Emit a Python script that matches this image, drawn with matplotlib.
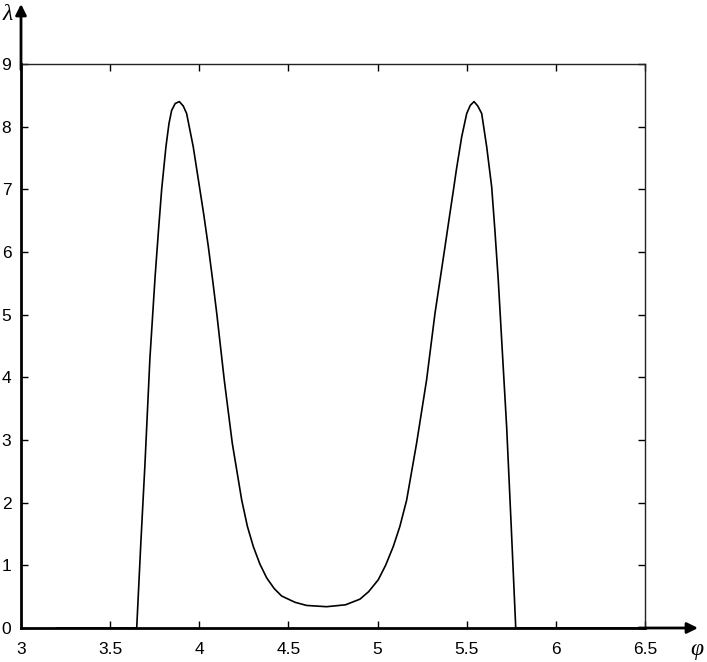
import matplotlib
matplotlib.use("Agg")
import matplotlib.pyplot as plt

# data
phi = [3.20, 3.649, 3.672, 3.695, 3.723, 3.752, 3.770, 3.789, 3.813, 3.830,
       3.845, 3.865, 3.888, 3.910, 3.929, 3.966, 3.995, 4.025, 4.051, 4.075,
       4.098, 4.140, 4.185, 4.238, 4.270, 4.303, 4.340, 4.378, 4.420, 4.462,
       4.537, 4.602, 4.714, 4.820, 4.901, 4.950, 5.004, 5.045, 5.088, 5.125,
       5.163, 5.219, 5.275, 5.322, 5.350, 5.378, 5.406, 5.425, 5.443, 5.472,
       5.500, 5.520, 5.541, 5.562, 5.584, 5.612, 5.640, 5.658, 5.677, 5.700,
       5.724, 5.750, 5.775, 6.50]
lam = [0.0, 0.0, 1.35, 2.60, 4.30, 5.60, 6.30, 7.00, 7.68, 8.05,
       8.26, 8.37, 8.40, 8.33, 8.21, 7.68, 7.15, 6.60, 6.08, 5.55,
       5.02, 3.96, 2.95, 2.04, 1.62, 1.30, 1.02, 0.80, 0.63, 0.51,
       0.41, 0.36, 0.34, 0.37, 0.46, 0.58, 0.77, 1.00, 1.30, 1.62,
       2.04, 2.95, 3.96, 5.02, 5.55, 6.08, 6.62, 6.98, 7.33, 7.84,
       8.21, 8.34, 8.40, 8.33, 8.21, 7.68, 7.04, 6.35, 5.55, 4.40,
       3.21, 1.60, 0.0, 0.0]
xticks = [3, 3.5, 4, 4.5, 5, 5.5, 6, 6.5]
xticklabels = ["3", "3.5", "4", "4.5", "5", "5.5", "6", "6.5"]
yticks = [0, 1, 2, 3, 4, 5, 6, 7, 8, 9]

W, H = 707, 662
fig = plt.figure(figsize=(W / 100, H / 100), dpi=100)
L, R, T, B = 21, 645, 64, 628
ax = fig.add_axes([L / W, 1 - B / H, (R - L) / W, (B - T) / H])

ax.plot(phi, lam, color="black", lw=1.2, clip_on=False, zorder=3,
        solid_joinstyle="round")
ax.set_xlim(3, 6.5)
ax.set_ylim(0, 9)
ax.set_xticks(xticks)
ax.set_xticklabels(xticklabels)
ax.set_yticks(yticks)

tickfont = dict(family=["Liberation Sans", "DejaVu Sans"], size=12.5)
for lab in ax.get_xticklabels() + ax.get_yticklabels():
    lab.set_fontfamily(tickfont["family"])
    lab.set_fontsize(tickfont["size"])

ax.tick_params(direction="in", length=5, width=1, top=True, right=True,
               color="black")
ax.tick_params(axis="x", pad=10)
ax.tick_params(axis="y", pad=7)

for s in ["top", "right"]:
    ax.spines[s].set_linewidth(1.0)
    ax.spines[s].set_color("#222222")
for s in ["left", "bottom"]:
    ax.spines[s].set_linewidth(2.0)
    ax.spines[s].set_color("black")

# arrows on left and bottom axes
ytop = (B - 4) / (B - T)
xend = (698 - L) / (R - L)
ax.annotate("", xy=(0, ytop), xytext=(0, 0.99), xycoords="axes fraction",
            arrowprops=dict(arrowstyle="-|>", lw=2, color="black",
                            mutation_scale=16, shrinkA=0, shrinkB=0))
ax.annotate("", xy=(xend, 0), xytext=(0.99, 0), xycoords="axes fraction",
            arrowprops=dict(arrowstyle="-|>", lw=2, color="black",
                            mutation_scale=16, shrinkA=0, shrinkB=0))

labfont = dict(family=["Liberation Serif", "DejaVu Serif"], style="italic",
               size=17)
fig.text(8 / W, 1 - 15 / H, "λ", ha="center", va="center", **labfont)
fig.text(697 / W, 1 - 650 / H, "φ", ha="center", va="center", **labfont)

fig.savefig("out.png", dpi=100)
